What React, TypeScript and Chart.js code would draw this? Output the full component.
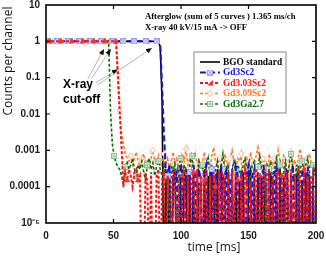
import React, { useEffect, useRef } from 'react';
import { Chart, registerables } from 'chart.js';

Chart.register(...registerables);

// ---- data ----
const MS_PER_CHANNEL = 1.365;
const CHANNELS = 147;
const timeMs = Array.from({ length: CHANNELS }, (_, i) => +(i * MS_PER_CHANNEL).toFixed(3));

const seriesNames = ['BGO standard', 'Gd3Sc2', 'Gd3.03Sc2', 'Gd3.09Sc2', 'Gd3Ga2.7'];

const bgoStandard = [
  1, 1, 1, 1, 1, 1, 1, 1, 1, 1,
  1, 1, 1, 1, 1, 1, 1, 1, 1, 1,
  1, 1, 1, 1, 1, 1, 1, 1, 1, 1,
  1, 1, 1, 1, 1, 1, 1, 1, 1, 1,
  1, 1, 1, 1, 1, 1, 1, 1, 1, 1,
  1, 1, 1, 1, 1, 1, 1, 1, 1, 1,
  1, 1,
  0.7, 0.02, 0,
  3e-4, 0, 2e-4, 0, 1.5e-4, 3e-4, 0, 0, 2e-4, 0,
  2.5e-4, 1.5e-4, 0, 3e-4, 0, 2e-4, 0, 0, 2.5e-4, 1.5e-4,
  0, 3e-4, 0, 2e-4, 0, 2.5e-4, 1e-4, 0, 3e-4, 0,
  0, 2e-4, 1.5e-4, 0, 2.5e-4, 0, 2e-4, 0, 3e-4, 0,
  1.5e-4, 0, 2.5e-4, 0, 0, 2e-4, 3e-4, 0, 1.5e-4, 0,
  2.5e-4, 0, 2e-4, 0, 3e-4, 0, 0, 2e-4, 1.5e-4, 0,
  2.5e-4, 0, 3e-4, 0, 2e-4, 0, 1.5e-4, 0, 2.5e-4, 0,
  0, 2e-4, 3e-4, 0, 1.5e-4, 0, 2.5e-4, 0, 2e-4, 0,
  1e-4, 0,
];

const gd3Sc2 = [
  1, 1, 1, 1, 1, 1, 1, 1, 1, 1,
  1, 1, 1, 1, 1, 1, 1, 1, 1, 1,
  1, 1, 1, 1, 1, 1, 1, 1, 1, 1,
  1, 1, 1, 1, 1, 1, 1, 1, 1, 1,
  1, 1, 1, 1, 1, 1, 1, 1, 1, 1,
  1, 1, 1, 1, 1, 1, 1, 1, 1, 1,
  1, 1,
  0.8, 0.06, 0.003, 3e-4,
  2e-4, 4e-4, 0, 3e-4, 1.5e-4, 2.5e-4, 0, 4e-4, 2e-4, 0,
  3e-4, 1e-4, 2.5e-4, 0, 4e-4, 2e-4, 0, 3e-4, 1.5e-4, 0,
  2.5e-4, 4e-4, 0, 2e-4, 3e-4, 0, 1.5e-4, 2.5e-4, 0, 4e-4,
  0, 2e-4, 3e-4, 0, 1.5e-4, 2.5e-4, 0, 3.5e-4, 2e-4, 0,
  3e-4, 1e-4, 0, 2.5e-4, 4e-4, 0, 2e-4, 3e-4, 0, 1.5e-4,
  2.5e-4, 0, 4e-4, 2e-4, 0, 3e-4, 1.5e-4, 0, 2.5e-4, 3.5e-4,
  0, 2e-4, 1e-4, 0, 3e-4, 2.5e-4, 0, 2e-4, 4e-4, 0,
  1.5e-4, 2.5e-4, 0, 3e-4, 2e-4, 0, 3.5e-4, 1.5e-4, 0, 2.5e-4,
  3e-4,
];

const gd303Sc2 = [
  1, 1, 1, 1, 1, 1, 1, 1, 1, 1,
  1, 1, 1, 1, 1, 1, 1, 1, 1, 1,
  1, 1, 1, 1, 1, 1, 1, 1, 1, 1,
  1, 1, 1, 1, 1, 1, 1, 1, 1,
  0.15, 0.012, 0.0012, 1e-4,
  2.5e-4, 1.5e-4, 3e-4, 2e-4, 1e-4, 2.5e-4, 3e-4, 1.5e-4, 2e-4, 0,
  0, 2e-4, 1.5e-4, 0, 2.5e-4, 0, 0, 2e-4, 3e-4, 0,
  1.5e-4, 3e-4, 0, 2e-4, 1e-4, 0, 2.5e-4, 3e-4, 0, 1.5e-4,
  0, 2e-4, 3e-4, 0, 2e-4, 0, 1.5e-4, 2.5e-4, 0, 3e-4,
  0, 2e-4, 0, 1.5e-4, 3e-4, 0, 2e-4, 0, 2.5e-4, 1e-4,
  0, 3e-4, 0, 2e-4, 1.5e-4, 0, 2.5e-4, 0, 3e-4, 0,
  2e-4, 1.5e-4, 0, 2.5e-4, 0, 3e-4, 2e-4, 0, 1.5e-4, 0,
  2.5e-4, 3e-4, 0, 2e-4, 0, 1.5e-4, 2.5e-4, 0, 3e-4, 0,
  2e-4, 0, 1.5e-4, 3e-4, 0, 2e-4, 0, 2.5e-4, 1.5e-4, 0,
  3e-4, 0, 2e-4, 0, 2.5e-4, 1.5e-4, 0, 3e-4, 0, 2e-4,
  0, 1.5e-4, 2.5e-4, 0,
];

const gd309Sc2 = [
  1, 1, 1, 1, 1, 1, 1, 1, 1, 1,
  1, 1, 1, 1, 1, 1, 1, 1, 1, 1,
  1, 1, 1, 1, 1, 1, 1, 1, 1, 1,
  1, 1, 1, 1, 1, 1, 1, 1, 1,
  0.07, 0.012, 0.003, 0.0015, 8e-4, 6e-4,
  5e-4, 7e-4, 4e-4, 6e-4, 9e-4, 5e-4, 3.5e-4, 6e-4, 8e-4, 4e-4,
  5.5e-4, 3e-4, 6e-4, 1e-3, 5e-4, 4e-4, 7e-4, 3.5e-4, 5e-4, 8e-4,
  4e-4, 6e-4, 3e-4, 5e-4, 9e-4, 4.5e-4, 6e-4, 3e-4, 0, 7e-4,
  5e-4, 1.1e-3, 4e-4, 6e-4, 3.5e-4, 5e-4, 8e-4, 4e-4, 6e-4, 0,
  5e-4, 9e-4, 4e-4, 5.5e-4, 3e-4, 7e-4, 1.2e-3, 5e-4, 4e-4, 6e-4,
  3.5e-4, 0, 8e-4, 5e-4, 4e-4, 6e-4, 1e-3, 4.5e-4, 3e-4, 6e-4,
  5e-4, 8e-4, 0, 4e-4, 6e-4, 3.5e-4, 9e-4, 5e-4, 4e-4, 7e-4,
  1.2e-3, 5e-4, 3e-4, 6e-4, 4.5e-4, 0, 8e-4, 5e-4, 4e-4, 6e-4,
  3e-4, 1e-3, 5e-4, 4e-4, 7e-4, 5e-4, 0, 6e-4, 9e-4, 4e-4,
  5.5e-4, 3e-4, 7e-4, 1.1e-3, 5e-4, 4e-4, 0, 6e-4, 8e-4, 4e-4,
  5e-4, 3e-4,
];

const gd3Ga27 = [
  1, 1, 1, 1, 1, 1, 1, 1, 1, 1,
  1, 1, 1, 1, 1, 1, 1, 1, 1, 1,
  1, 1, 1, 1, 1, 1, 1, 1, 1, 1,
  1, 1, 1, 1, 1,
  0.012, 0.0015, 7e-4, 4.5e-4, 3.5e-4,
  3e-4, 2e-4, 1.2e-4, 3.5e-4, 5e-4, 3e-4, 4e-4, 6e-4, 3e-4, 2e-4,
  4e-4, 3e-4, 5e-4, 2.5e-4, 1.5e-4, 4e-4, 6e-4, 3e-4, 4.5e-4, 2e-4,
  3.5e-4, 5e-4, 3e-4, 2e-4, 4e-4, 1.5e-4, 3e-4, 0, 4e-4, 2.5e-4,
  5e-4, 0, 3e-4, 6e-4, 2e-4, 4e-4, 3e-4, 1e-4, 4e-4, 7e-4,
  3e-4, 0, 2.5e-4, 5e-4, 3e-4, 4e-4, 1.5e-4, 3.5e-4, 6e-4, 2e-4,
  4e-4, 0, 3e-4, 5e-4, 2e-4, 3.5e-4, 8e-4, 3e-4, 1.5e-4, 4e-4,
  0, 3e-4, 5e-4, 2.5e-4, 4e-4, 3e-4, 1e-4, 4.5e-4, 6e-4, 3e-4,
  0, 2e-4, 4e-4, 5e-4, 2.5e-4, 3.5e-4, 7e-4, 3e-4, 2e-4, 0,
  4e-4, 3e-4, 5e-4, 1.5e-4, 3.5e-4, 6e-4, 2.5e-4, 4e-4, 0, 3e-4,
  5e-4, 2e-4, 4e-4, 8e-4, 3e-4, 1.5e-4, 4e-4, 0, 3e-4, 5e-4,
  2.5e-4, 4e-4, 6e-4, 3e-4, 0, 4e-4, 2e-4,
];

const seriesValues = [bgoStandard, gd3Sc2, gd303Sc2, gd309Sc2, gd3Ga27];

const yTickValues = [1e-5, 1e-4, 1e-3, 1e-2, 1e-1, 1, 10];
const yTickLabels = ['10\u207B\u2075', '0.0001', '0.001', '0.01', '0.1', '1', '10'];
const xTickValues = [0, 50, 100, 150, 200];

const headerLines = ['Afterglow (sum of 5 curves ) 1.365 ms/ch', 'X-ray 40 kV/15 mA -> OFF'];
const headerPos = { t: 73.3, v: [4.7, 2.34] };
const cutoffLines = ['X-ray', 'cut-off'];
const cutoffPos = { t: 12.6, v: [0.064, 0.025] };
// [fromTime, fromCounts, toTime, toCounts]
const cutoffArrows = [
  [31.1, 0.094, 43.0, 0.62],
  [33.6, 0.094, 48.1, 0.62],
  [37.0, 0.073, 53.3, 0.17],
  [38.5, 0.064, 78.5, 0.66],
];

// ---- styles ----
const lineColors = ['#000000', '#1414d8', '#ff1010', '#ff7a2a', '#0b6b0b'];
const markerColors = ['#000000', '#9a9aff', '#ff3030', '#ffae80', '#8cbc8c'];
const lineDashes = [[], [6, 3], [3, 2], [3, 2], [3, 2]];
const lineWidths = [1.6, 2, 2, 1.6, 1.6];
const markerKinds = ['none', 'boxX', 'triangle', 'diamond', 'boxPlus'];
const markerOffsets = [-1, 0, 2, 4, 1];
const drawOrder = [4, 1, 0, 3, 2];

function makeMarker(kind: string, color: string): HTMLCanvasElement {
  const c = document.createElement('canvas');
  c.width = 6;
  c.height = 6;
  const g = c.getContext('2d')!;
  g.strokeStyle = color;
  g.lineWidth = 1;
  g.fillStyle = '#ffffff';
  g.fillRect(0.5, 0.5, 5, 5);
  g.strokeRect(0.5, 0.5, 5, 5);
  g.beginPath();
  if (kind === 'boxX') {
    g.moveTo(0.5, 0.5); g.lineTo(5.5, 5.5);
    g.moveTo(5.5, 0.5); g.lineTo(0.5, 5.5);
  } else {
    g.moveTo(3, 0.5); g.lineTo(3, 5.5);
    g.moveTo(0.5, 3); g.lineTo(5.5, 3);
  }
  g.stroke();
  return c;
}

function drawLegendMarker(ctx: CanvasRenderingContext2D, kind: string, color: string, img: any, x: number, y: number) {
  if (kind === 'none') return;
  if (img) {
    ctx.drawImage(img, x - 3, y - 3);
    return;
  }
  ctx.save();
  if (kind === 'triangle') {
    ctx.fillStyle = color;
    ctx.beginPath();
    ctx.moveTo(x + 3, y - 3);
    ctx.lineTo(x + 3, y + 2.5);
    ctx.lineTo(x - 3, y + 2.5);
    ctx.closePath();
    ctx.fill();
  } else if (kind === 'diamond') {
    ctx.fillStyle = '#fff';
    ctx.strokeStyle = color;
    ctx.lineWidth = 1;
    ctx.beginPath();
    ctx.moveTo(x, y - 3);
    ctx.lineTo(x + 3, y);
    ctx.lineTo(x, y + 3);
    ctx.lineTo(x - 3, y);
    ctx.closePath();
    ctx.fill();
    ctx.stroke();
  }
  ctx.restore();
}

export default function App() {
  const canvasRef = useRef<HTMLCanvasElement | null>(null);

  useEffect(() => {
    if (!canvasRef.current) return;
    const images: any[] = markerKinds.map((k, i) =>
      k === 'boxX' || k === 'boxPlus' ? makeMarker(k, markerColors[i]) : null
    );

    const datasets = seriesNames.map((name, s) => {
      const kind = markerKinds[s];
      const pointStyle = images[s] || (kind === 'triangle' ? 'triangle' : kind === 'diamond' ? 'rectRot' : 'circle');
      return {
        label: name,
        data: seriesValues[s].map((v, i) => ({ x: timeMs[i], y: v > 0 ? v : 1e-7 })),
        borderColor: lineColors[s],
        borderWidth: lineWidths[s],
        borderDash: lineDashes[s],
        pointStyle,
        pointRadius: (c: any) => (kind !== 'none' && c.dataIndex % 6 === markerOffsets[s] ? 2.8 : 0),
        pointBackgroundColor: kind === 'triangle' ? markerColors[s] : '#ffffff',
        pointBorderColor: markerColors[s],
        pointBorderWidth: 1,
        tension: 0,
        fill: false,
        order: drawOrder[s],
      };
    });

    const overlay = {
      id: 'overlay',
      afterDraw(chart: any) {
        const { ctx, chartArea: a, scales } = chart;
        const xs = scales.x;
        const ys = scales.y;
        ctx.save();

        // frame
        ctx.strokeStyle = '#000';
        ctx.lineWidth = 1.6;
        ctx.strokeRect(a.left, a.top, a.right - a.left, a.bottom - a.top);

        // inward ticks
        ctx.lineWidth = 1.2;
        ctx.beginPath();
        xTickValues.slice(1, -1).forEach((v) => {
          const px = xs.getPixelForValue(v);
          ctx.moveTo(px, a.bottom); ctx.lineTo(px, a.bottom - 4);
          ctx.moveTo(px, a.top); ctx.lineTo(px, a.top + 4);
        });
        yTickValues.slice(1, -1).forEach((v) => {
          const py = ys.getPixelForValue(v);
          ctx.moveTo(a.left, py); ctx.lineTo(a.left + 4, py);
          ctx.moveTo(a.right, py); ctx.lineTo(a.right - 4, py);
        });
        ctx.stroke();

        // axis titles
        ctx.fillStyle = '#111';
        ctx.font = '12px "Open Sans"';
        ctx.textAlign = 'center';
        ctx.textBaseline = 'middle';
        ctx.fillText('time [ms]', 214, 248);
        ctx.save();
        ctx.translate(9, 61);
        ctx.rotate(-Math.PI / 2);
        ctx.fillText('Counts per channel', 0, 0);
        ctx.restore();

        // header annotation
        ctx.font = 'bold 8.7px "Liberation Serif"';
        ctx.textAlign = 'left';
        ctx.fillStyle = '#000';
        headerLines.forEach((t, i) => {
          ctx.fillText(t, xs.getPixelForValue(headerPos.t), ys.getPixelForValue(headerPos.v[i]));
        });

        // cut-off label
        ctx.font = 'bold 12px "Liberation Sans"';
        cutoffLines.forEach((t, i) => {
          ctx.fillText(t, xs.getPixelForValue(cutoffPos.t), ys.getPixelForValue(cutoffPos.v[i]));
        });

        // arrows
        cutoffArrows.forEach(([t0, v0, t1, v1]) => {
          const x0 = xs.getPixelForValue(t0), y0 = ys.getPixelForValue(v0);
          const x1 = xs.getPixelForValue(t1), y1 = ys.getPixelForValue(v1);
          const ang = Math.atan2(y1 - y0, x1 - x0);
          ctx.strokeStyle = '#a0a0a0';
          ctx.lineWidth = 0.8;
          ctx.beginPath();
          ctx.moveTo(x0, y0);
          ctx.lineTo(x1 - 5 * Math.cos(ang), y1 - 5 * Math.sin(ang));
          ctx.stroke();
          ctx.fillStyle = '#000';
          ctx.beginPath();
          ctx.moveTo(x1, y1);
          ctx.lineTo(x1 - 6 * Math.cos(ang) + 2.5 * Math.sin(ang), y1 - 6 * Math.sin(ang) - 2.5 * Math.cos(ang));
          ctx.lineTo(x1 - 6 * Math.cos(ang) - 2.5 * Math.sin(ang), y1 - 6 * Math.sin(ang) + 2.5 * Math.cos(ang));
          ctx.closePath();
          ctx.fill();
        });

        // legend
        const lx = 194, ly = 52, lw = 92, lh = 61;
        ctx.fillStyle = '#fff';
        ctx.fillRect(lx, ly, lw, lh);
        ctx.strokeStyle = '#9a9a9a';
        ctx.lineWidth = 1.2;
        ctx.strokeRect(lx, ly, lw, lh);
        ctx.font = 'bold 9.4px "Liberation Serif"';
        ctx.textAlign = 'left';
        ctx.textBaseline = 'middle';
        seriesNames.forEach((name, s) => {
          const y = ly + 10 + s * 10.5;
          ctx.save();
          ctx.strokeStyle = lineColors[s];
          ctx.lineWidth = lineWidths[s];
          ctx.setLineDash(lineDashes[s]);
          ctx.beginPath();
          ctx.moveTo(lx + 6, y);
          ctx.lineTo(lx + 26, y);
          ctx.stroke();
          ctx.restore();
          drawLegendMarker(ctx, markerKinds[s], markerColors[s], images[s], lx + 16, y);
          ctx.fillStyle = lineColors[s];
          ctx.fillText(name, lx + 29, y + 0.5);
        });

        ctx.restore();
      },
    };

    const chart = new Chart(canvasRef.current, {
      type: 'line',
      data: { datasets: datasets as any },
      options: {
        responsive: false,
        animation: false,
        devicePixelRatio: 1,
        layout: { padding: { top: 4, right: 10, left: 0, bottom: 0 } },
        plugins: { legend: { display: false }, tooltip: { enabled: false }, title: { display: false } },
        scales: {
          x: {
            type: 'linear',
            min: 0,
            max: 200,
            grid: { display: false, drawTicks: false },
            border: { display: false },
            ticks: {
              stepSize: 50,
              autoSkip: false,
              maxRotation: 0,
              padding: 7,
              color: '#1a1a1a',
              font: { family: '"Liberation Sans"', weight: 'bold', size: 10 },
            },
            afterBuildTicks: (s: any) => { s.ticks = xTickValues.map((v) => ({ value: v })); },
            afterFit: (s: any) => { s.height = 35; s.paddingLeft = 0; s.paddingRight = 0; },
          },
          y: {
            type: 'logarithmic',
            min: 1e-5,
            max: 10,
            grid: { display: false, drawTicks: false },
            border: { display: false },
            ticks: {
              autoSkip: false,
              padding: 6,
              color: '#1a1a1a',
              font: { family: '"Liberation Sans"', weight: 'bold', size: 10 },
              callback: (_v: any, i: number) => yTickLabels[i],
            },
            afterBuildTicks: (s: any) => { s.ticks = yTickValues.map((v) => ({ value: v })); },
            afterFit: (s: any) => { s.width = 46; s.paddingTop = 0; s.paddingBottom = 0; },
          },
        },
      } as any,
      plugins: [overlay],
    });
    return () => chart.destroy();
  }, []);

  return (
    <div style={{ position: 'fixed', left: 0, top: 0, width: 326, height: 258, background: '#fff' }}>
      <canvas ref={canvasRef} width={326} height={258} style={{ display: 'block' }} />
    </div>
  );
}
